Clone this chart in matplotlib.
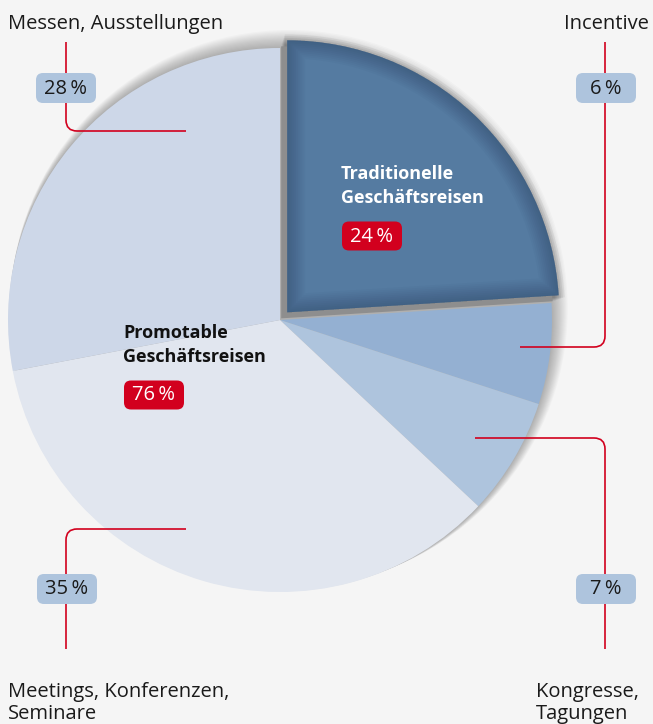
import numpy as np
import matplotlib.pyplot as plt
from matplotlib.patches import Wedge, Circle, FancyBboxPatch, PathPatch
from matplotlib.path import Path

# data
segments = ['Traditionelle Geschäftsreisen', 'Incentive', 'Kongresse, Tagungen',
            'Meetings, Konferenzen, Seminare', 'Messen, Ausstellungen']
shares = [24, 6, 7, 35, 28]
colors = ['#557ba1', '#94b0d2', '#aec4dd', '#e1e6ef', '#cdd7e8']
groups = ['Traditionelle\nGeschäftsreisen', 'Promotable\nGeschäftsreisen']
group_shares = [24, 76]

W, H = 653, 724
BG = '#f5f5f5'
RED = '#d2001e'
BADGE = '#aec4dd'
FONT = ['Open Sans', 'DejaVu Sans']


def py(y):
    # pixel row -> data y
    return H - y


fig = plt.figure(figsize=(W / 100, H / 100), dpi=100, facecolor=BG)
ax = fig.add_axes([0, 0, 1, 1])
ax.set_facecolor(BG)

cx, cy, R = 280, py(320), 272

# soft drop shadow, thrown up and to the right
for k in range(1, 16):
    ax.add_patch(Circle((cx + 0.6 * k, cy + 0.75 * k), R + 0.45 * k,
                        color='#000000', alpha=0.02, lw=0, zorder=0))

wedges, _ = ax.pie(shares, colors=colors, startangle=90, counterclock=False,
                   center=(cx, cy), radius=R, wedgeprops=dict(linewidth=0))
ax.set_xlim(0, W)
ax.set_ylim(0, H)
ax.set_aspect('equal')
ax.axis('off')
for w in wedges:
    w.set_zorder(2)

# pull out the first slice
w0 = wedges[0]
mid = np.deg2rad((w0.theta1 + w0.theta2) / 2)
off = 10.5
ex, ey = cx + off * np.cos(mid), cy + off * np.sin(mid)
w0.set_center((ex, ey))
w0.set_zorder(5)

# its shadow
for k in range(6):
    ax.add_patch(Wedge((ex - 4 + k * 0.6, ey - 4 + k * 0.6), R + 1 + k * 1.2,
                       w0.theta1 - 0.3, w0.theta2 + 0.3, color='#000000',
                       alpha=0.05, lw=0, zorder=3))
ax.add_patch(Wedge((ex - 6, ey - 6), R, w0.theta1, w0.theta2,
                   color='#8e8e8e', lw=0, zorder=4))

# inner shading along its edges
for lw in np.linspace(2, 26, 10):
    sh = Wedge((ex, ey), R, w0.theta1, w0.theta2, fill=False,
               edgecolor='#1c3250', lw=lw, alpha=0.035, zorder=6)
    ax.add_patch(sh)
    sh.set_clip_path(w0)


def elbow(a, c, b, r=11):
    a, c, b = (np.array([p[0], py(p[1])], float) for p in (a, c, b))
    u1 = (a - c) / np.linalg.norm(a - c)
    u2 = (b - c) / np.linalg.norm(b - c)
    verts = [a, c + u1 * r, c, c + u2 * r, b]
    codes = [Path.MOVETO, Path.LINETO, Path.CURVE3, Path.CURVE3, Path.LINETO]
    ax.add_patch(PathPatch(Path(verts, codes), fill=False, edgecolor=RED,
                           lw=1.2, zorder=8, capstyle='butt'))


def badge(x, y, text, face, tcolor, w=60, h=30):
    ax.add_patch(FancyBboxPatch((x - w / 2, py(y) - h / 2), w, h,
                                boxstyle='round,pad=0,rounding_size=7',
                                fc=face, ec='none', zorder=9))
    ax.text(x, py(y) - 0.5, text, ha='center', va='center', fontsize=14.5,
            color=tcolor, family=FONT, fontweight='normal', zorder=10)


def label(x, y, lines, ha='left', step=22, **kw):
    for i, s in enumerate(lines.split('\n')):
        ax.text(x, py(y + i * step), s, ha=ha, va='baseline', zorder=10,
                family=FONT, **kw)


pct = [f'{v}\u2009%' for v in shares]

# callouts, keyed by segment index
callouts = {
    1: dict(path=((520, 347), (605, 347), (605, 42)), badge=(606, 88),
            text=(649, 29), ha='right'),
    2: dict(path=((475, 438), (605, 438), (605, 649)), badge=(606, 589),
            text=(536, 697), ha='left', lines='Kongresse,\nTagungen'),
    3: dict(path=((186, 529), (66, 529), (66, 649)), badge=(67, 589),
            text=(8, 697), ha='left', lines='Meetings, Konferenzen,\nSeminare'),
    4: dict(path=((186, 131), (66, 131), (66, 42)), badge=(66, 88),
            text=(8, 29), ha='left'),
}
for i, c in callouts.items():
    elbow(*c['path'])
    badge(*c['badge'], pct[i], BADGE, '#1a1a1a')
    label(*c['text'], c.get('lines', segments[i]), ha=c['ha'], fontsize=14.5,
          color='#1a1a1a', fontweight='normal')

# group labels inside the pie
label(341, 179, groups[0], fontsize=13, color='white', fontweight='bold',
      step=24)
badge(372, 236, f'{group_shares[0]}\u2009%', RED, 'white', h=29)
label(123, 338, groups[1], fontsize=13, color='#111111', fontweight='bold',
      step=24)
badge(154, 395, f'{group_shares[1]}\u2009%', RED, 'white', h=29)

fig.savefig('out.png', dpi=100, facecolor=BG)
